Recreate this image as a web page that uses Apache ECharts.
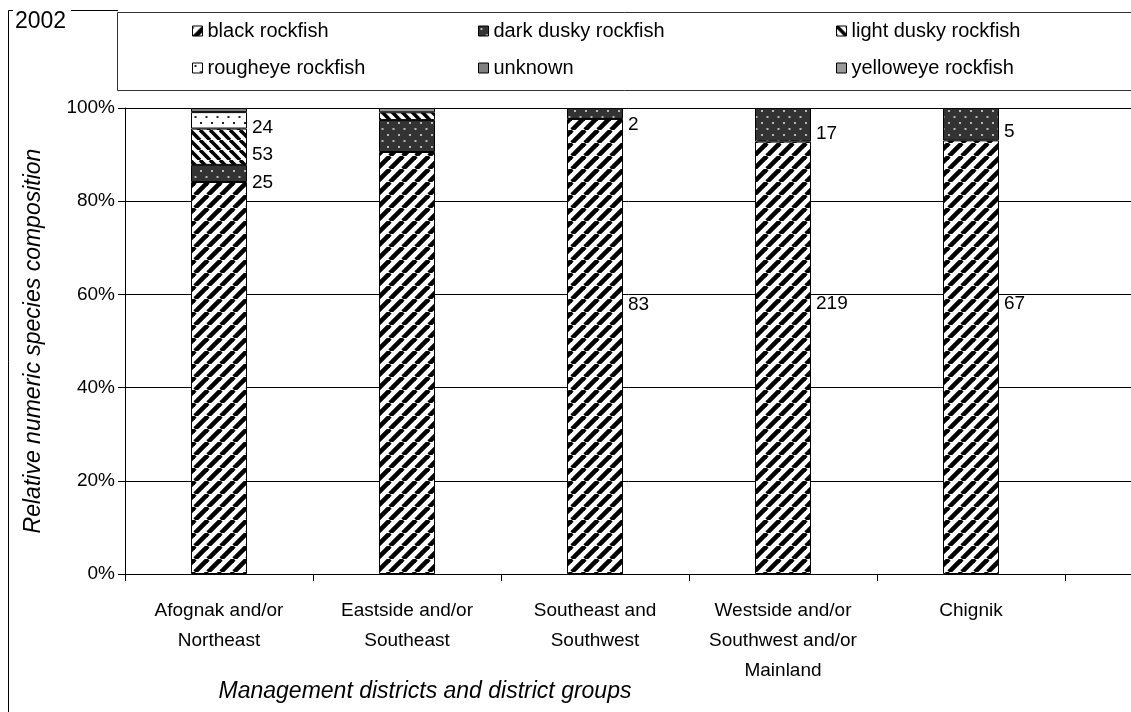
<!DOCTYPE html>
<html>
<head>
<meta charset="utf-8">
<script src="https://cdn.jsdelivr.net/npm/echarts@6/dist/echarts.min.js"></script>
<style>
  html, body { margin: 0; padding: 0; background: #fff; }
  #chart { width: 1131px; height: 712px; }
</style>
</head>
<body>
<div id="chart"></div>
<script>
// Rockfish sampled per management district group, 2002 (numbers of fish)
const categories = [
  'Afognak and/or\nNortheast',
  'Eastside and/or\nSoutheast',
  'Southeast and\nSouthwest',
  'Westside and/or\nSouthwest and/or\nMainland',
  'Chignik',
  ''
];
const speciesNames = ['black rockfish', 'dark dusky rockfish', 'light dusky rockfish',
                      'rougheye rockfish', 'unknown', 'yelloweye rockfish'];

const blackRockfish      = [572, 489, 83, 219, 67];
const darkDuskyRockfish  = [25, 37, 2, 17, 5];
const lightDuskyRockfish = [53, 9, 0, 0, 0];
const rougheyeRockfish   = [24, 0, 0, 0, 0];
const unknownRockfish    = [6, 0, 0, 0, 0];
const yelloweyeRockfish  = [0, 5, 0, 0, 0];

// which counts are printed beside the columns
const printedBlack      = [false, false, true, true, true];
const printedDarkDusky  = [true, false, true, true, true];
const printedLightDusky = [true, false, false, false, false];
const printedRougheye   = [true, false, false, false, false];

const yTickValues = [0, 20, 40, 60, 80, 100];

// vertical nudges (px) for the count labels
const labelNudge = {
  black: [0, 0, -42, -54, -53],
  darkDusky: [9, 0, 11, 9, 8],
  lightDusky: [8, 0, 0, 0, 0],
  rougheye: [7, 0, 0, 0, 0],
  none: [0, 0, 0, 0, 0]
};

const FONT = '"Liberation Sans", Arial, sans-serif';

// ---- fill patterns ----
function stripes(dir, size, width) {
  const c = document.createElement('canvas');
  c.width = size; c.height = size;
  const g = c.getContext('2d');
  g.fillStyle = '#fff';
  g.fillRect(0, 0, size, size);
  g.strokeStyle = '#000';
  g.lineWidth = width;
  for (let k = -1; k <= 1; k++) {
    g.beginPath();
    if (dir === '/') {
      g.moveTo(k * size, size);
      g.lineTo(k * size + size, 0);
    } else {
      g.moveTo(k * size, 0);
      g.lineTo(k * size + size, size);
    }
    g.stroke();
  }
  return { image: c, repeat: 'repeat' };
}
function dots(bg, fg, w, h) {
  const c = document.createElement('canvas');
  c.width = w; c.height = h;
  const g = c.getContext('2d');
  g.fillStyle = bg;
  g.fillRect(0, 0, w, h);
  g.fillStyle = fg;
  g.fillRect(2, 2, 2, 2);
  g.fillRect(2 + w / 2, 2 + h / 2, 2, 2);
  return { image: c, repeat: 'repeat' };
}

const fills = [
  stripes('/', 13, 4.6),
  dots('#333333', '#b8b8b8', 11, 12),
  stripes('\\', 10, 3.6),
  dots('#ffffff', '#222222', 11, 12),
  '#808080',
  '#999999'
];

const counts = [blackRockfish, darkDuskyRockfish, lightDuskyRockfish,
                rougheyeRockfish, unknownRockfish, yelloweyeRockfish];
const printed = [printedBlack, printedDarkDusky, printedLightDusky, printedRougheye, null, null];
const nudges = [labelNudge.black, labelNudge.darkDusky, labelNudge.lightDusky,
                labelNudge.rougheye, labelNudge.none, labelNudge.none];

const totals = blackRockfish.map((_, i) => counts.reduce((s, arr) => s + arr[i], 0));

const series = speciesNames.map((name, si) => ({
  name,
  type: 'bar',
  stack: 'all',
  barWidth: 56,
  itemStyle: { color: fills[si], borderColor: '#000', borderWidth: 1 },
  emphasis: { disabled: true },
  data: counts[si].map((n, i) => {
    if (n === 0) return '-';
    const item = { value: n / totals[i] * 100 };
    if (printed[si] && printed[si][i]) {
      item.label = {
        show: true,
        position: 'right',
        distance: 5,
        offset: [0, nudges[si][i]],
        formatter: String(n),
        color: '#000',
        fontSize: 19,
        fontFamily: FONT
      };
    }
    return item;
  })
}));

// one legend block per species, laid out in a 3 x 2 table
const legendCols = [192, 478, 836];
const legendRows = [21, 58];
const legends = speciesNames.map((name, i) => ({
  data: [{ name, icon: 'rect' }],
  left: legendCols[i % 3],
  top: legendRows[Math.floor(i / 3)],
  padding: 0,
  itemWidth: 10,
  itemHeight: 10,
  selectedMode: false,
  itemStyle: { borderColor: '#000', borderWidth: 1 },
  textStyle: { fontSize: 20, fontFamily: FONT, color: '#000' }
}));

const chart = echarts.init(document.getElementById('chart'), null, { renderer: 'canvas' });
chart.setOption({
  animation: false,
  backgroundColor: '#fff',
  textStyle: { fontFamily: FONT },
  legend: legends,
  grid: { left: 125, top: 108, bottom: 138, width: 1128, containLabel: false, outerBoundsMode: 'none' },
  xAxis: {
    type: 'category',
    data: categories,
    axisLine: { lineStyle: { color: '#000', width: 1 } },
    axisTick: { show: true, length: 7, lineStyle: { color: '#000' } },
    axisLabel: { interval: 0, color: '#000', fontSize: 19, lineHeight: 30, margin: 22, fontFamily: FONT }
  },
  yAxis: {
    type: 'value',
    min: 0, max: 100, interval: 20,
    axisLine: { show: true, lineStyle: { color: '#000', width: 1 } },
    axisTick: { show: true, length: 7, lineStyle: { color: '#000' } },
    axisLabel: {
      color: '#000', fontSize: 19, margin: 10, fontFamily: FONT,
      formatter: v => yTickValues.includes(v) ? v + '%' : ''
    },
    splitLine: { lineStyle: { color: '#000', width: 1 } },
    name: 'Relative numeric species composition',
    nameLocation: 'middle',
    nameGap: 80,
    nameRotate: 90,
    nameTextStyle: { fontSize: 23, fontStyle: 'italic', color: '#000', fontFamily: FONT }
  },
  series,
  graphic: [
    { type: 'line', silent: true, z: -1, shape: { x1: 8.5, y1: 10.5, x2: 8.5, y2: 712 },
      style: { stroke: '#000', lineWidth: 1 } },
    { type: 'line', silent: true, z: -1, shape: { x1: 8.5, y1: 10.5, x2: 13, y2: 10.5 },
      style: { stroke: '#000', lineWidth: 1 } },
    { type: 'line', silent: true, z: -1, shape: { x1: 71, y1: 10.5, x2: 118, y2: 10.5 },
      style: { stroke: '#000', lineWidth: 1 } },
    { type: 'rect', silent: true, z: -1, shape: { x: 117.5, y: 12.5, width: 1100, height: 78 },
      style: { fill: 'none', stroke: '#333', lineWidth: 1 } },
    { type: 'text', silent: true,
      style: { text: '2002', x: 15, y: 22, fontSize: 23, fontFamily: FONT, fill: '#000',
               align: 'left', verticalAlign: 'middle' } },
    { type: 'text', silent: true,
      style: { text: 'Management districts and district groups', x: 425, y: 692,
               fontSize: 23, fontStyle: 'italic', fontFamily: FONT, fill: '#000',
               align: 'center', verticalAlign: 'middle' } }
  ]
});
</script>
</body>
</html>
